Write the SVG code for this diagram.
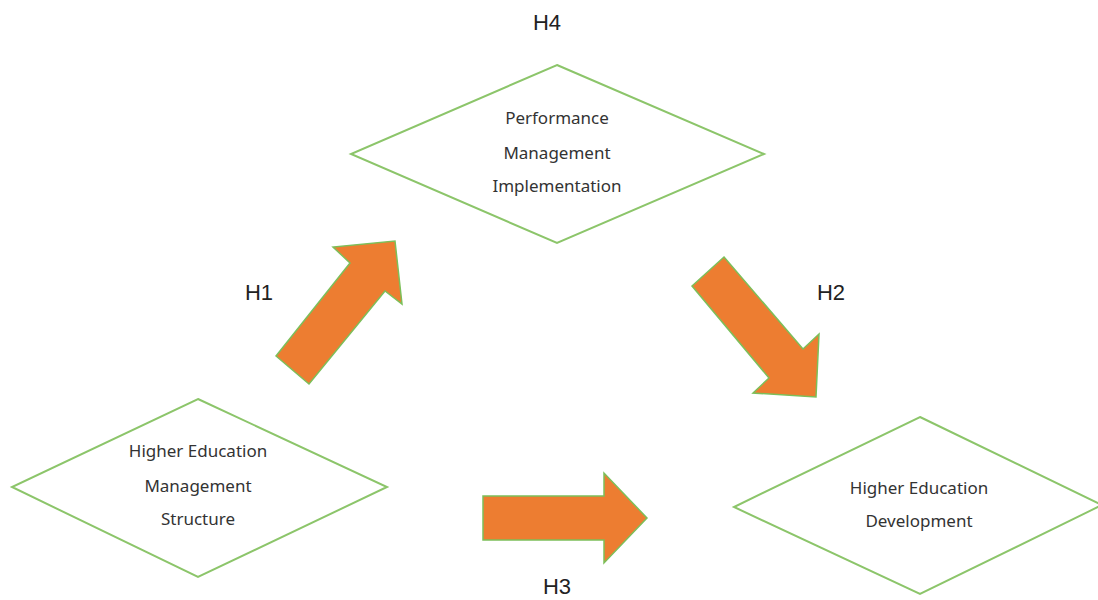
<svg xmlns="http://www.w3.org/2000/svg" width="1098" height="600" viewBox="0 0 1098 600">
<style>
.node{fill:#fff;stroke:#8cc56a;stroke-width:2}
.arr{fill:#ed7d31;stroke:#7cbf5a;stroke-width:1.5;stroke-linejoin:miter}
.t{font-family:"Noto Sans","Open Sans",sans-serif;font-size:17px;fill:#333;text-anchor:middle}
.h{font-family:"Liberation Sans",Arial,sans-serif;font-size:22px;fill:#222;text-anchor:middle}
</style>
<rect width="1098" height="600" fill="#fff"/>
<g id="connectors">
<polygon class="arr" points="276,356 350,263 333,247 395,241 402,304 385,291 309,384"/>
<polygon class="arr" points="724,257 803,349 819,334 816,397 753,393 769,378 692,286"/>
<polygon class="arr" points="483,496 604,496 604,473 647,518 604,563 604,540 483,540"/>
</g>
<g id="node-pmi">
<polygon class="node" points="557,65 764,154 557,243 351,154"/>
<text class="t" x="557" y="124">Performance</text>
<text class="t" x="557" y="159">Management</text>
<text class="t" x="557" y="192">Implementation</text>
</g>
<g id="node-hems">
<polygon class="node" points="198,399 387,487 198,577 12,487"/>
<text class="t" x="198" y="457">Higher Education</text>
<text class="t" x="198" y="492">Management</text>
<text class="t" x="198" y="525">Structure</text>
</g>
<g id="node-hed">
<polygon class="node" points="920,417 1102,505 920,594 734,507"/>
<text class="t" x="919" y="494">Higher Education</text>
<text class="t" x="919" y="527">Development</text>
</g>
<g id="labels">
<text class="h" x="547" y="30">H4</text>
<text class="h" x="259" y="300">H1</text>
<text class="h" x="831" y="300">H2</text>
<text class="h" x="557" y="594">H3</text>
</g>
</svg>
